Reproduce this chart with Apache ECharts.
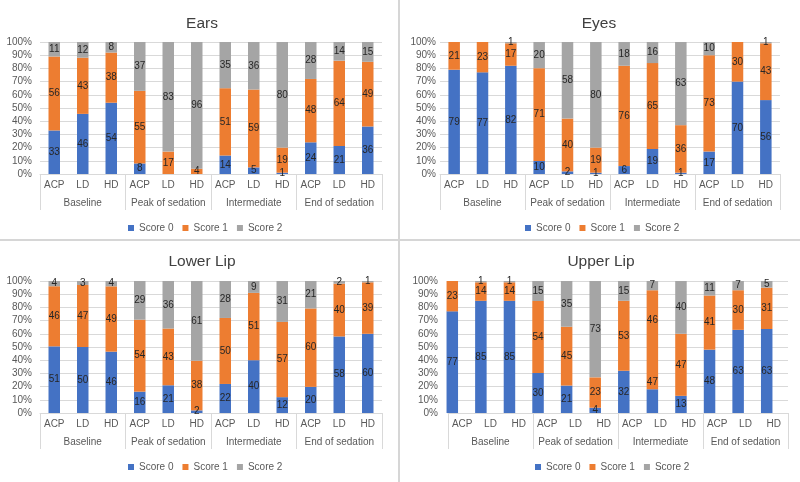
<!DOCTYPE html>
<html>
<head>
<meta charset="utf-8">
<script src="https://cdn.jsdelivr.net/npm/echarts@6/dist/echarts.min.js"></script>
<style>html,body{margin:0;padding:0;background:#fff}#c{width:800px;height:482px}</style>
</head>
<body>
<div id="c"></div>
<script>
// ---------- data ----------
const categories = ['ACP','LD','HD','ACP','LD','HD','ACP','LD','HD','ACP','LD','HD'];
const groups = ['Baseline','Peak of sedation','Intermediate','End of sedation'];
const seriesNames = ['Score 0','Score 1','Score 2'];
const panelTitles = ['Ears','Eyes','Lower Lip','Upper Lip'];
const yTickStep = 10;

const earsScore0 = [33,46,54, 8,0,0, 14,5,1, 24,21,36];
const earsScore1 = [56,43,38, 55,17,4, 51,59,19, 48,64,49];
const earsScore2 = [11,12,8, 37,83,96, 35,36,80, 28,14,15];

const eyesScore0 = [79,77,82, 10,2,1, 6,19,1, 17,70,56];
const eyesScore1 = [21,23,17, 71,40,19, 76,65,36, 73,30,43];
const eyesScore2 = [0,0,1, 20,58,80, 18,16,63, 10,0,1];

const lowerLipScore0 = [51,50,46, 16,21,2, 22,40,12, 20,58,60];
const lowerLipScore1 = [46,47,49, 54,43,38, 50,51,57, 60,40,39];
const lowerLipScore2 = [4,3,4, 29,36,61, 28,9,31, 21,2,1];

const upperLipScore0 = [77,85,85, 30,21,4, 32,18,13, 48,63,63];
const upperLipScore1 = [23,14,14, 54,45,23, 53,75,47, 41,30,31];
const upperLipScore2 = [0,1,1, 15,35,73, 15,7,40, 11,7,5];
// printed labels in the source that differ from the drawn segment heights
const upperLipLabelOverride = [{7:47},{7:46},{}];

const panelData = [
  [earsScore0, earsScore1, earsScore2],
  [eyesScore0, eyesScore1, eyesScore2],
  [lowerLipScore0, lowerLipScore1, lowerLipScore2],
  [upperLipScore0, upperLipScore1, upperLipScore2]
];
const panelOverrides = [null, null, null, upperLipLabelOverride];

// ---------- layout ----------
const FONT = 'Liberation Sans, Arial, sans-serif';
const colors = ['#4472C4','#ED7D31','#A5A5A5'];
const layout = [
  {axLeft:40,  barLeft:40,  w:342, barW:342, top:42,  yMargin:8,  titleX:197, titleTop:11,  legLeft:123, legTop:218},
  {axLeft:440, barLeft:440, w:340, barW:340, top:42,  yMargin:4,  titleX:594, titleTop:11,  legLeft:520, legTop:218},
  {axLeft:40,  barLeft:40,  w:342, barW:342, top:281, yMargin:8,  titleX:197, titleTop:249, legLeft:123, legTop:457},
  {axLeft:448, barLeft:438, w:340, barW:343, top:281, yMargin:10, titleX:596, titleTop:249, legLeft:530, legTop:457}
];
const H = 132;

const option = {
  animation:false,
  backgroundColor:'#fff',
  textStyle:{fontFamily:FONT},
  color:colors,
  title:[], grid:[], xAxis:[], yAxis:[], series:[], legend:[],
  graphic:[
    {type:'line', shape:{x1:399,y1:0,x2:399,y2:482}, style:{stroke:'#d6d6d6',lineWidth:2}, z:100},
    {type:'line', shape:{x1:0,y1:240,x2:800,y2:240}, style:{stroke:'#d6d6d6',lineWidth:2}, z:100}
  ]
};

layout.forEach((L,i)=>{
  option.title.push({text:panelTitles[i], left:L.titleX, top:L.titleTop, textAlign:'center',
    textStyle:{fontFamily:FONT,fontSize:15.5,fontWeight:'normal',color:'#404040'}});
  // axes grid
  option.grid.push({left:L.axLeft, top:L.top, width:L.w, height:H});
  // bars grid
  option.grid.push({left:L.barLeft, top:L.top, width:L.barW, height:H});
  const gA = 2*i, gB = 2*i+1;
  option.xAxis.push({gridIndex:gA, type:'category', data:categories, position:'bottom',
    axisLine:{show:true,lineStyle:{color:'#d9d9d9',width:1}}, axisTick:{show:false},
    axisLabel:{interval:0, margin:6, fontSize:10, color:'#595959', fontFamily:FONT}});
  option.xAxis.push({gridIndex:gA, type:'category', data:groups, position:'bottom', boundaryGap:true,
    axisLine:{show:false}, axisTick:{show:true, interval:0, length:36, lineStyle:{color:'#d9d9d9',width:1}},
    axisLabel:{interval:0, margin:24, fontSize:10, color:'#595959', fontFamily:FONT}});
  option.xAxis.push({gridIndex:gB, type:'category', data:categories, show:false});
  option.yAxis.push({gridIndex:gA, type:'value', min:0, max:100, interval:yTickStep,
    axisLine:{show:false}, axisTick:{show:false},
    axisLabel:{formatter:'{value}%', margin:L.yMargin, fontSize:10, color:'#595959', fontFamily:FONT},
    splitLine:{lineStyle:{color:'#d9d9d9',width:1}}});
  option.yAxis.push({gridIndex:gB, type:'value', min:0, max:100, show:false, splitLine:{show:false}});

  const data = panelData[i];
  const ov = panelOverrides[i];
  const sums = categories.map((_,k)=>data[0][k]+data[1][k]+data[2][k]);
  data.forEach((arr,s)=>{
    option.series.push({
      name:seriesNames[s], type:'bar', stack:'p'+i, xAxisIndex:3*i+2, yAxisIndex:2*i+1,
      barWidth:11.5, itemStyle:{color:colors[s]},
      data:arr.map((v,k)=>{
        const item = {value: sums[k] ? v/sums[k]*100 : 0, raw:v, lab:v};
        if (ov && ov[s][k] !== undefined) {
          item.lab = ov[s][k];
          item.label = {offset:[0,-19]};
        }
        return item;
      }),
      label:{show:true, position:'inside', fontSize:10, color:'#262626', fontFamily:FONT,
        formatter:p=> p.data.raw===0 ? '' : String(p.data.lab)}
    });
  });
  option.legend.push({data:seriesNames.map(n=>({name:n, icon:'rect'})), left:L.legLeft, top:L.legTop,
    itemWidth:6, itemHeight:6, itemGap:9, selectedMode:false,
    textStyle:{fontSize:10, color:'#595959', fontFamily:FONT}});
});

const chart = echarts.init(document.getElementById('c'), null, {renderer:'canvas'});
chart.setOption(option);
</script>
</body>
</html>
